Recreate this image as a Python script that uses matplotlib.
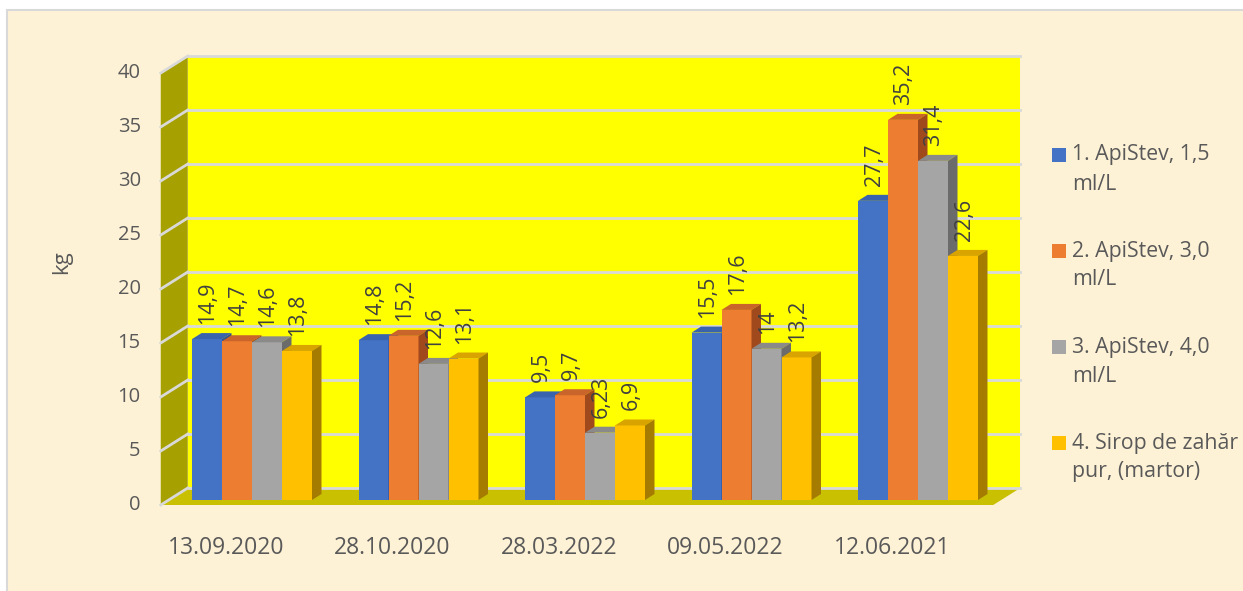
import matplotlib
matplotlib.use("Agg")
import matplotlib.pyplot as plt
from matplotlib.patches import Polygon, Rectangle
from matplotlib.transforms import offset_copy

categories = ['13.09.2020', '28.10.2020', '28.03.2022', '09.05.2022', '12.06.2021']
series_names = ['1. ApiStev, 1,5\nml/L', '2. ApiStev, 3,0\nml/L',
                '3. ApiStev, 4,0\nml/L', '4. Sirop de zahăr\npur, (martor)']
s1 = [14.9, 14.8, 9.5, 15.5, 27.7]
s2 = [14.7, 15.2, 9.7, 17.6, 35.2]
s3 = [14.6, 12.6, 6.23, 14, 31.4]
s4 = [13.8, 13.1, 6.9, 13.2, 22.6]
series = [s1, s2, s3, s4]
yticks = [0, 5, 10, 15, 20, 25, 30, 35, 40]

front_cols = ['#4472C4', '#ED7D31', '#A5A5A5', '#FFC000']
top_cols = ['#3A63AE', '#C9642A', '#8A8A8A', '#D9A300']
side_cols = ['#2F5091', '#A0491D', '#6B6B6B', '#A67C00']
txt = '#595959'

plt.rcParams['font.family'] = ['Open Sans', 'DejaVu Sans']

W, H = 1243, 591
fig = plt.figure(figsize=(W / 100, H / 100), dpi=100, facecolor='white')
fig.patches.append(Rectangle((7 / W, -0.1), 1.2, 1 - 10 / H + 0.1, transform=fig.transFigure,
                             facecolor='#FEF2D6', edgecolor='#D9D9D9', lw=1.5, zorder=-10))

# axes = plane of the bar front faces
left, right, top, bottom = 168.75, 1001.25, 68, 500
ax = fig.add_axes([left / W, 1 - bottom / H, (right - left) / W, (bottom - top) / H])
ax.set_xlim(-0.5, 4.5)
ax.set_ylim(0, 40)
ax.axis('off')
ppx = (right - left) / 5
ppy = (bottom - top) / 40


def off(px, py):
    return px / ppx, py / ppy


bx, by = off(19, 12)    # back wall
fx, fy = off(-8, -5)    # front floor edge
dx, dy = off(9.5, 6)    # bar depth

# walls
ax.add_patch(Polygon([(-0.5 + bx, by), (4.5 + bx, by), (4.5 + bx, 40 + by), (-0.5 + bx, 40 + by)],
                     closed=True, facecolor='#FFFF00', edgecolor='none', clip_on=False, zorder=1))
ax.add_patch(Polygon([(-0.5 + fx, fy), (-0.5 + fx, 40 + fy), (-0.5 + bx, 40 + by), (-0.5 + bx, by)],
                     closed=True, facecolor='#A6A000', edgecolor='none', clip_on=False, zorder=1))
ax.add_patch(Polygon([(-0.5 + fx, fy), (4.5 + fx, fy), (4.5 + bx, by), (-0.5 + bx, by)],
                     closed=True, facecolor='#C8C000', edgecolor='none', clip_on=False, zorder=1))
for v in yticks:
    ax.plot([-0.5 + bx, 4.5 + bx], [v + by, v + by], color='#D9D9D9', lw=2, clip_on=False, zorder=1.5)
    ax.plot([-0.5 + fx, -0.5 + bx], [v + fy, v + by], color='#D9D9D9', lw=2, clip_on=False, zorder=1.5)

# bars
w = 30 / ppx
for j, vals in enumerate(series):
    xs = [i + (j - 1.5) * w for i in range(len(categories))]
    ax.bar(xs, vals, width=w, color=front_cols[j], edgecolor='none', zorder=3, clip_on=False)
    for x, v in zip(xs, vals):
        x0, x1 = x - w / 2, x + w / 2
        ax.add_patch(Polygon([(x0, v), (x1, v), (x1 + dx, v + dy), (x0 + dx, v + dy)],
                             closed=True, facecolor=top_cols[j], edgecolor='none', zorder=3, clip_on=False))
        ax.add_patch(Polygon([(x1, 0), (x1, v), (x1 + dx, v + dy), (x1 + dx, dy)],
                             closed=True, facecolor=side_cols[j], edgecolor='none', zorder=3, clip_on=False))
        ax.text(x, v + dy, f"{v:g}".replace('.', ','), rotation=90, ha='center', va='bottom',
                fontsize=15.5, color='#404040', zorder=5,
                transform=offset_copy(ax.transData, fig=fig, x=1, y=9, units='dots'))

# axis labels
tl = offset_copy(ax.transData, fig=fig, x=-28, y=-5, units='dots')
for v in yticks:
    ax.text(-0.5, v, str(v), ha='right', va='center', fontsize=14.5, color=txt, transform=tl)
cl = offset_copy(ax.transData, fig=fig, x=-26, y=-48, units='dots')
for i, c in enumerate(categories):
    ax.text(i, 0, c, ha='center', va='center', fontsize=16.5, color=txt, transform=cl)
fig.text(62 / W, 1 - 262 / H, 'kg', rotation=90, ha='center', va='center', fontsize=16, color=txt)

# legend
for j, name in enumerate(series_names):
    yc = 155 + 96 * j
    fig.patches.append(Rectangle((1052 / W, 1 - (yc + 7) / H), 14 / W, 14 / H,
                                 transform=fig.transFigure, facecolor=front_cols[j], edgecolor='none'))
    for k, line in enumerate(name.split('\n')):
        fig.text(1072 / W, 1 - (yc + 29 * k) / H, line, ha='left', va='center', fontsize=15.3,
                 color=txt)

fig.savefig('out.png', dpi=100, facecolor=fig.get_facecolor())
